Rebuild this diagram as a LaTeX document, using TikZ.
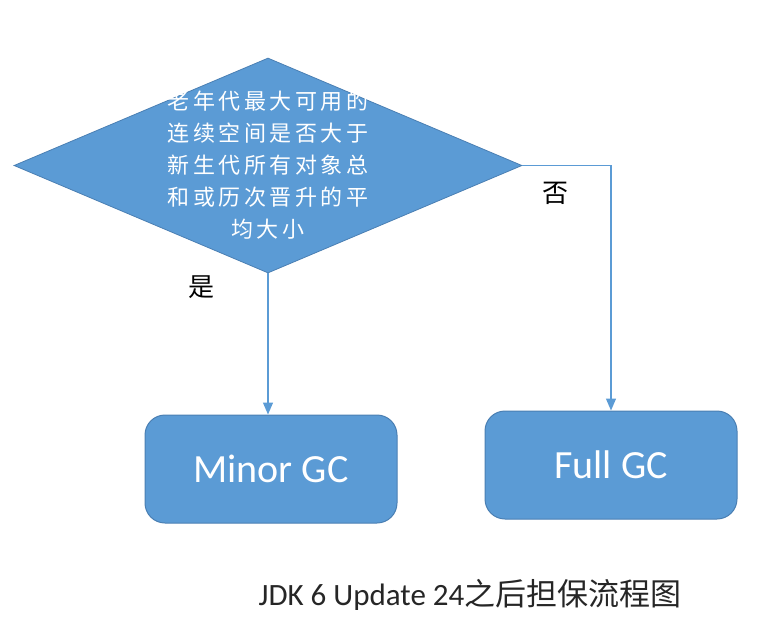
\documentclass[tikz,border=0pt]{standalone}
\usepackage{fontspec}
\setmainfont{Carlito}
\newfontfamily\cjk{Noto Sans CJK SC}
\newfontfamily\cjkwide[LetterSpace=16]{Noto Sans CJK SC}
\usetikzlibrary{shapes.geometric,arrows.meta}
\definecolor{boxblue}{HTML}{5B9BD5}
\definecolor{boxedge}{HTML}{4A7FB3}
\tikzset{
  box/.style={draw=boxedge, line width=1pt, fill=boxblue, rounded corners=20pt,
    minimum width=252pt, minimum height=108pt, text=white, font=\fontsize{40}{46}\selectfont},
  link/.style={draw=boxblue, line width=1.3pt, -{Triangle[length=12pt,width=10pt]}},
  lbl/.style={font=\cjk\fontsize{26}{30}\selectfont, text=black}
}
\begin{document}
\begin{tikzpicture}[x=1pt,y=-1pt]
\useasboundingbox (0,0) rectangle (764,630);
\node[diamond, draw=boxedge, line width=0.8pt, fill=boxblue, minimum width=508pt, minimum height=215pt, inner sep=0pt] (d) at (268,165.5) {};
\node[text=white, align=center, font=\cjkwide\fontsize{22}{32}\selectfont] (dt) at (268,165) {老年代最大可用的\\连续空间是否大于\\新生代所有对象总\\和或历次晋升的平\\均大小};
\node[box] (minor) at (271,469) {Minor GC};
\node[box] (full) at (611,465) {Full GC};
\draw[link] (d.south) -- (d.south |- minor.north);
\draw[link] (d.east) -| (full.north);
\node[lbl] (yes) at (201,287) {是};
\node[lbl] (no) at (555,193) {否};
\node[font=\fontsize{31}{36}\selectfont, text=black!85] (cap) at (470,595) {JDK 6 Update 24{\cjk 之后担保流程图}};
\end{tikzpicture}
\end{document}
